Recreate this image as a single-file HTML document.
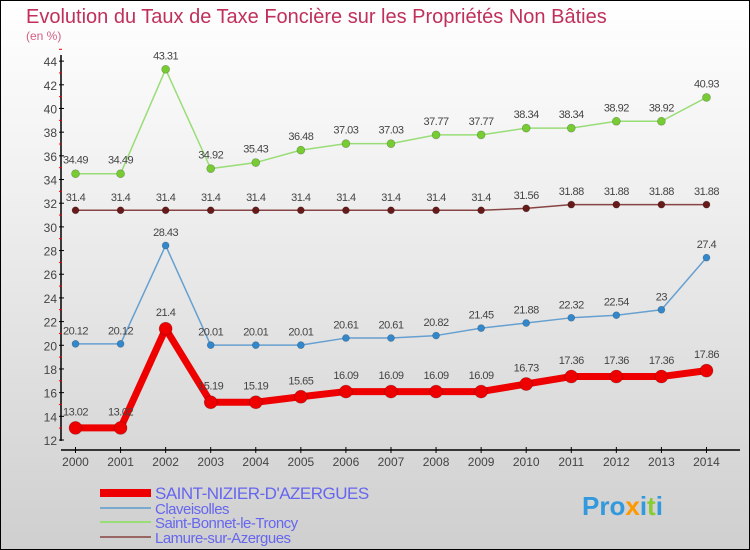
<!DOCTYPE html>
<html><head><meta charset="utf-8"><style>
body{margin:0}
#c{width:750px;height:550px;position:relative;box-sizing:border-box;border:1px solid #000;background:linear-gradient(#ffffff,#f2f2f2 30%,#cfcfcf);font-family:"Liberation Sans",sans-serif;overflow:hidden}
</style></head><body>
<div id="c">
<svg id="s" width="750" height="550" style="position:absolute;left:-1px;top:-1px">
<text x="26" y="23" font-size="20" fill="#c0305a">Evolution du Taux de Taxe Foncière sur les Propriétés Non Bâties</text>
<text x="26" y="40" font-size="12" fill="#d06080">(en %)</text>
<g id="g"></g>
</svg>
</div>
<script>
const years=[2000,2001,2002,2003,2004,2005,2006,2007,2008,2009,2010,2011,2012,2013,2014];
const yTicks=[12,14,16,18,20,22,24,26,28,30,32,34,36,38,40,42,44];
const sNizier=[13.02,13.02,21.4,15.19,15.19,15.65,16.09,16.09,16.09,16.09,16.73,17.36,17.36,17.36,17.86];
const sClav=[20.12,20.12,28.43,20.01,20.01,20.01,20.61,20.61,20.82,21.45,21.88,22.32,22.54,23,27.4];
const sBonnet=[34.49,34.49,43.31,34.92,35.43,36.48,37.03,37.03,37.77,37.77,38.34,38.34,38.92,38.92,40.93];
const sLamure=[31.4,31.4,31.4,31.4,31.4,31.4,31.4,31.4,31.4,31.4,31.56,31.88,31.88,31.88,31.88];
const seriesNames=["SAINT-NIZIER-D'AZERGUES","Claveisolles","Saint-Bonnet-le-Troncy","Lamure-sur-Azergues"];
const NS="http://www.w3.org/2000/svg";
const g=document.getElementById('g');
const X=i=>75.5+i*45.07;
const Y=v=>440-(v-12)*11.84;
function mk(t,a,p){const e=document.createElementNS(NS,t);for(const k in a)e.setAttribute(k,a[k]);(p||g).appendChild(e);return e;}
function lab(v){return String(v).replace('.','.');}
// axes
let ax=mk('line',{x1:61,y1:55,x2:61,y2:441,stroke:'#000','stroke-width':1.5});


let xa=mk('line',{x1:61,y1:450,x2:740,y2:450,stroke:'#000','stroke-width':1.5});


yTicks.forEach(v=>{
 mk('line',{x1:59,y1:Y(v),x2:64,y2:Y(v),stroke:'#000'});
 mk('line',{x1:59,y1:Y(v+1),x2:62,y2:Y(v+1),stroke:'#e00'});
 const t=mk('text',{x:57,y:Y(v)+5,'font-size':12,fill:'#444','text-anchor':'end'});t.textContent=v;
 
 
});
years.forEach((y,i)=>{
 mk('line',{x1:X(i),y1:447,x2:X(i),y2:453,stroke:'#000'});
 const t=mk('text',{x:X(i),y:466,'font-size':12,fill:'#444','text-anchor':'middle'});t.textContent=y;
 
 
});
function series(data,color,w,r,dot,name){
 const pl=mk('polyline',{points:data.map((v,i)=>X(i)+','+Y(v)).join(' '),fill:'none',stroke:color,'stroke-width':w,'stroke-linejoin':'round'});
 
 
 data.forEach((v,i)=>{
  const c=mk('circle',{cx:X(i),cy:Y(v),r:r,fill:dot,stroke:'rgba(0,0,0,0.25)','stroke-width':0.7});
  
  
  const t=mk('text',{x:X(i),y:Y(v)-(r+6),'font-size':11,fill:'#444','text-anchor':'middle','letter-spacing':'-0.5'});t.textContent=lab(v);
  
  
 });
}
series(sBonnet,'#99dd77',1.5,4,'#77cc33','saint-bonnet');
series(sLamure,'#884444',1.5,3.5,'#661a1a','lamure');
series(sClav,'#66a0d0',1.5,3.5,'#3388cc','claveisolles');
series(sNizier,'#ee0000',7,6.5,'#ee0000','saint-nizier');
// legend
const leg=[['#ee0000',8,493,17],['#77aacc',2,508,15],['#99dd77',2,522,15],['#996666',2,537,15]];
leg.forEach((l,i)=>{
 const ln=mk('line',{x1:100,y1:l[2],x2:151,y2:l[2],stroke:l[0],'stroke-width':l[1]});
 
 
 const t=mk('text',{x:155,y:l[2]+6,'font-size':l[3],fill:'#6666ee','letter-spacing':'-0.5'});t.textContent=seriesNames[i];
 
 
});
const px=mk('text',{x:582,y:515,'font-size':26,'font-weight':'bold',fill:'#3399dd'});
px.innerHTML='Pro<tspan fill="#ff9900">x</tspan>i<tspan fill="#88cc33">t</tspan>i';


</script>
</body></html>
